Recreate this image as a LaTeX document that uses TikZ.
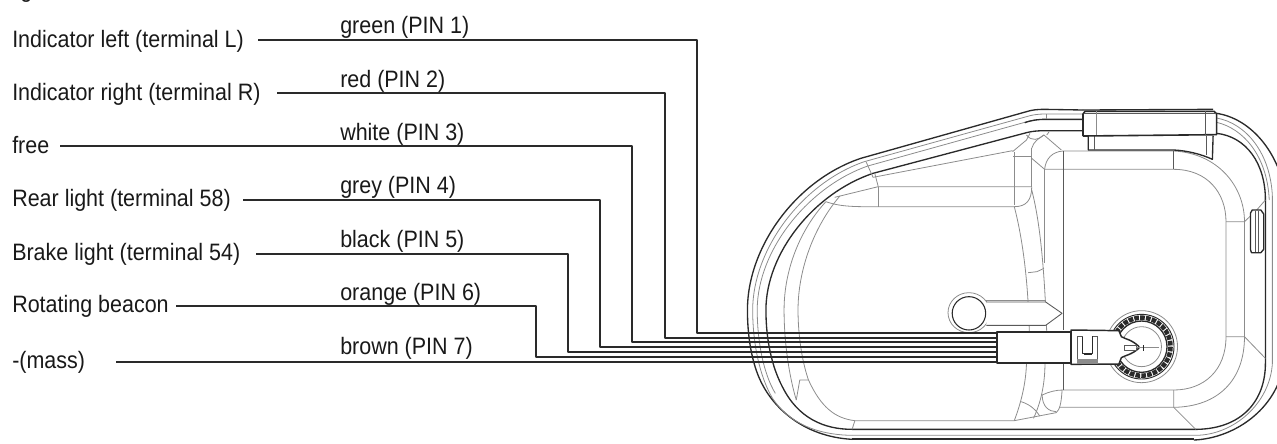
\documentclass[tikz,border=0pt]{standalone}
\usepackage{fontspec}
\setmainfont[FakeStretch=0.905]{Liberation Sans}
\definecolor{ink}{HTML}{2A2A2A}
\definecolor{thin}{HTML}{8C8C8C}
\tikzset{
  lbl/.style={anchor=base west,inner sep=0pt,font=\fontsize{17.8pt}{20pt}\selectfont,text=black!90},
  wire/.style={draw=ink,line width=1.6pt},
  dk/.style={draw=ink,line width=1pt},
  md/.style={draw=black!65,line width=0.65pt},
  lt/.style={draw=thin,line width=0.6pt},
  plugpart/.style={draw=ink,line width=1.1pt,fill=white,inner sep=0pt,minimum width=55.5pt,minimum height=23pt}
}
\begin{document}
\begin{tikzpicture}[x=0.75pt,y=-0.75pt,line join=round]
\useasboundingbox (0,0) rectangle (1277,443);
\begin{scope}
\clip (0,0) rectangle (1277,443);
\node[lbl] (g) at (20,-3) {g};

% ---------- housing, in crop coordinates
\begin{scope}[shift={(547.5pt,-67.5pt)},x=0.2616pt,y=-0.25pt]
% outer contours
\draw[dk] (1012,60) -- (900,58) .. controls (880,58) and (865,60) .. (850,65) -- (375,205)
  .. controls (190,270) and (50,470) .. (50,660) .. controls (50,740) and (62,800) .. (75,840)
  .. controls (110,950) and (210,1040) .. (350,1048);
\draw[dk] (1012,60) -- (1385,58);
\draw[draw=ink,line width=1.4pt] (350,1048) -- (1330,1048);
\draw[dk] (1395,70) .. controls (1490,85) and (1568,180) .. (1590,300) -- (1590,800)
  .. controls (1580,950) and (1450,1045) .. (1330,1050);
\draw[lt] (1012,72) -- (905,72) .. controls (880,72) and (865,75) .. (850,80) -- (385,215)
  .. controls (205,280) and (65,480) .. (65,660) .. controls (65,760) and (85,860) .. (122,925)
  .. controls (180,1015) and (275,1035) .. (350,1036);
\draw[lt] (1395,84) .. controls (1480,100) and (1550,190) .. (1555,320) -- (1555,820)
  .. controls (1548,940) and (1445,1035) .. (1335,1036) -- (350,1036);
\draw[lt] (1395,97) .. controls (1470,115) and (1540,195) .. (1546,330);
\draw[lt] (905,88) .. controls (880,88) and (860,92) .. (845,97) -- (395,228)
  .. controls (225,290) and (78,480) .. (78,660) .. controls (78,750) and (95,850) .. (130,910);
\draw[dk] (1012,88) -- (905,88) .. controls (880,88) and (860,92) .. (845,98);
% inner dark contour
\draw[dk] (1012,122) -- (905,122) .. controls (880,122) and (865,124) .. (850,128) -- (410,250)
  .. controls (240,310) and (103,490) .. (103,660) .. controls (103,750) and (120,830) .. (150,890)
  .. controls (195,985) and (270,1018) .. (350,1018) -- (1340,1018)
  .. controls (1470,1015) and (1535,930) .. (1535,820) -- (1535,330)
  .. controls (1535,220) and (1480,140) .. (1395,130);
% chamber left
\draw[lt] (275,335) .. controls (200,420) and (155,540) .. (155,660) .. controls (155,760) and (170,860) .. (190,930);
\draw[lt] (315,318) .. controls (240,410) and (195,540) .. (195,660) .. controls (195,730) and (205,810) .. (225,870)
  .. controls (260,950) and (300,985) .. (358,992) -- (815,992);
\draw[lt] (275,335) .. controls (320,352) and (370,350) .. (425,350) -- (815,350) .. controls (850,350) and (865,330) .. (865,290);
\draw[lt] (300,322) -- (425,290) -- (865,290);
\draw[lt] (425,290) -- (425,350);
\draw[lt] (415,250) -- (425,290);
\draw[lt] (390,215) -- (410,262) -- (810,182);
\draw[lt] (815,185) -- (815,345);
\draw[lt] (812,198) -- (865,198);
\draw[lt] (865,175) -- (865,290);
\draw[lt] (810,185) -- (850,150) -- (860,130);
\draw[lt] (850,135) .. controls (865,155) and (885,150) .. (900,135) -- (950,180);
\draw[lt] (865,175) .. controls (870,155) and (885,145) .. (900,135);
\draw[lt] (865,205) -- (902,238);
\draw[lt] (955,183) .. controls (925,185) and (905,205) .. (902,238);
\draw[lt] (908,135) -- (915,125);
\draw[lt] (907,72) -- (907,88);
% centre walls
\draw[lt] (815,350) .. controls (840,450) and (855,580) .. (858,725);
\draw[lt] (865,300) .. controls (885,380) and (900,500) .. (908,725);
\draw[lt] (855,548) -- (880,545) -- (900,535);
\draw[lt] (850,820) .. controls (848,890) and (830,950) .. (815,992);
\draw[lt] (903,820) .. controls (903,870) and (895,930) .. (870,985);
\draw[lt] (835,935) .. controls (865,945) and (880,965) .. (888,978);
\draw[lt] (895,915) .. controls (895,950) and (915,965) .. (935,965);
\draw[lt] (895,915) .. controls (915,905) and (935,900) .. (955,900);
\draw[lt] (815,992) -- (935,968) .. controls (945,960) and (950,940) .. (952,900);
\draw[lt] (358,992) -- (350,1018);
\draw[lt] (190,930) -- (200,870) -- (225,870);
% chamber right
\draw[lt] (902,238) -- (1272,238) .. controls (1370,238) and (1422,310) .. (1422,395) -- (1422,740)
  .. controls (1422,840) and (1360,900) .. (1272,900) -- (955,900);
\draw[lt] (955,183) -- (1272,183) .. controls (1400,190) and (1475,290) .. (1475,395) -- (1475,740)
  .. controls (1475,870) and (1400,950) .. (1272,952) -- (945,952);
\draw[md] (955,183) -- (955,720);
\draw[md] (955,823) -- (955,900);
\draw[lt] (902,238) -- (902,520);
\draw[md] (1272,183) -- (1272,238);
\draw[lt] (1272,900) -- (1272,952) -- (1335,1018);
\draw[lt] (1422,395) -- (1475,395) -- (1510,360) -- (1535,330);
\draw[lt] (1422,740) -- (1475,740) -- (1535,805);
% top block
\draw[dk,fill=white] (1027,138) -- (1027,180) -- (1272,180) .. controls (1310,182) and (1350,192) .. (1383,208) -- (1385,138);
\draw[md] (1045,138) -- (1045,180);
\draw[md] (1365,138) -- (1365,195);
\draw[draw=ink,line width=1.2pt,fill=white] (1012,138) -- (1012,72) -- (1018,64) -- (1388,64) -- (1395,72) -- (1395,134) -- (1012,138);
\draw[md] (1014,70) -- (1393,70);
\draw[lt] (1050,64) -- (1050,136);
\draw[md] (1362,64) -- (1362,134);
% side clip
\draw[dk,fill=white] (1492,370) -- (1497,360) -- (1522,360) -- (1530,372) -- (1530,478) -- (1522,488) -- (1495,488) -- (1492,478) -- cycle;
\draw[md] (1505,362) -- (1505,486);
\draw[md] (1516,362) -- (1516,486);
% lever
\draw[lt] (685,668) circle [x radius=60,y radius=60];
\draw[lt] (735,630) -- (905,630);
\draw[md,fill=white] (735,636) -- (905,636) -- (952,670) -- (905,706) -- (735,706);
\draw[draw=ink,line width=0.8pt,fill=white] (685,670) circle [x radius=48,y radius=50];
% bearing
\draw[lt] (1180,770) circle [x radius=103,y radius=108];
\draw[draw=ink,line width=3.4pt,dash pattern=on 3.5pt off 0.9pt] (1180,770) circle [x radius=83,y radius=87];
\draw[dk,line width=0.7pt] (1180,770) circle [x radius=93,y radius=97];
\draw[dk] (1180,770) circle [x radius=73,y radius=77];
\draw[lt] (1180,770) circle [x radius=57,y radius=60];
\end{scope}

% ---------- labels
\node[lbl] (l1) at (12,47) {Indicator left (terminal L)};
\node[lbl] (l2) at (12,100) {Indicator right (terminal R)};
\node[lbl] (l3) at (12,153) {free};
\node[lbl] (l4) at (12,206) {Rear light (terminal 58)};
\node[lbl] (l5) at (12,260) {Brake light (terminal 54)};
\node[lbl] (l6) at (12,312) {Rotating beacon};
\node[lbl] (l7) at (12,368) {-(mass)};
\node[lbl] (c1) at (340,33) {green (PIN 1)};
\node[lbl] (c2) at (340,87) {red (PIN 2)};
\node[lbl] (c3) at (340,140) {white (PIN 3)};
\node[lbl] (c4) at (340,193) {grey (PIN 4)};
\node[lbl] (c5) at (340,247) {black (PIN 5)};
\node[lbl] (c6) at (340,300) {orange (PIN 6)};
\node[lbl] (c7) at (340,354) {brown (PIN 7)};

% ---------- plug and wires
\node[plugpart] (plug) at (1034,347.5) {};
\coordinate (s1) at (258,40);  \coordinate (b1) at (697,40);  \coordinate (p1) at (plug.west |- 0,333);
\coordinate (s2) at (277,93);  \coordinate (b2) at (665,93);  \coordinate (p2) at (plug.west |- 0,338);
\coordinate (s3) at (60,146);  \coordinate (b3) at (632,146); \coordinate (p3) at (plug.west |- 0,342);
\coordinate (s4) at (243,200); \coordinate (b4) at (600,200); \coordinate (p4) at (plug.west |- 0,347);
\coordinate (s5) at (256,254); \coordinate (b5) at (568,254); \coordinate (p5) at (plug.west |- 0,352);
\coordinate (s6) at (176,306); \coordinate (b6) at (536,306); \coordinate (p6) at (plug.west |- 0,357);
\coordinate (s7) at (116,362); \coordinate (p7) at (plug.west |- 0,362);
\foreach \i in {1,...,6} \draw[wire] (s\i) -- (b\i) |- (p\i);
\draw[wire] (s7) -- (p7);

\begin{scope}[shift={(547.5pt,-67.5pt)},x=0.2616pt,y=-0.25pt]
\draw[draw=ink,line width=1.1pt,fill=white] (978,720) -- (1115,722) -- (1122,740) .. controls (1135,748) and (1150,748) .. (1172,769)
  -- (1172,775) .. controls (1150,795) and (1135,795) .. (1122,803) -- (1115,822) -- (978,823) -- cycle;
\draw[md] (996,738) -- (996,819);
\draw[md] (1053,738) -- (1053,819);
\draw[dk] (1011,738) -- (1011,790) -- (1040,790) -- (1040,738);
\draw[draw=ink,line width=1.2pt] (1014,792) -- (1037,792);
\draw[md] (996,738) -- (1011,738);
\draw[md] (1040,738) -- (1053,738);
\draw[lt,fill=black!45] (996,808) rectangle (1053,820);
\draw[md,fill=white] (1132,765) rectangle (1165,780);
\draw[lt] (1165,772) -- (1230,772);
\draw[dk] (1186,765) -- (1186,782);
\end{scope}
\end{scope}
\end{tikzpicture}
\end{document}
